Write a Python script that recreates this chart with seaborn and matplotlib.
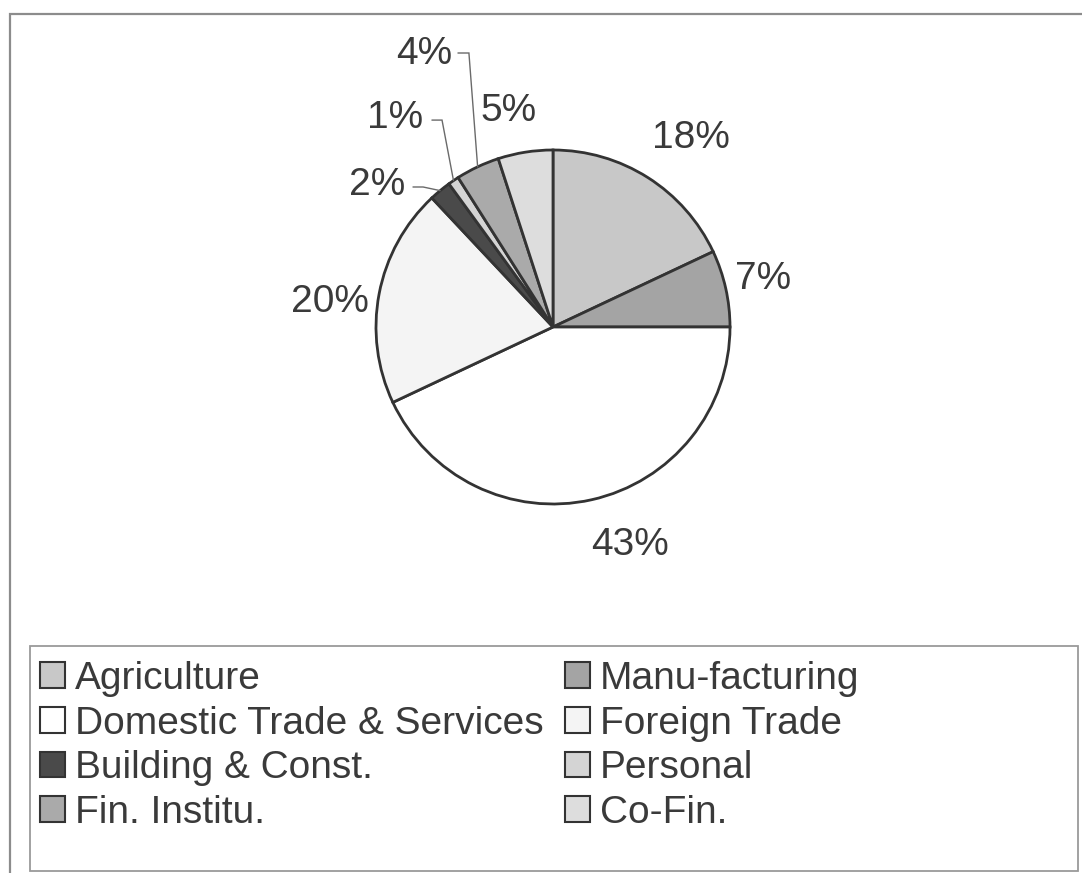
import numpy as np
import matplotlib
matplotlib.use("Agg")
import matplotlib.pyplot as plt
from matplotlib.patches import Patch, Rectangle
import seaborn as sns

# Loan portfolio by sector (percent of total)
sectors = ["Agriculture", "Manu-facturing", "Domestic Trade & Services",
           "Foreign Trade", "Building & Const.", "Personal",
           "Fin. Institu.", "Co-Fin."]
shares = [18, 7, 43, 20, 2, 1, 4, 5]
pct_labels = [f"{v}%" for v in shares]

sns.set_theme(style="white")
plt.rcParams["font.family"] = ["Liberation Sans", "DejaVu Sans"]

greys = ["#c8c8c8", "#a4a4a4", "#ffffff", "#f4f4f4",
         "#4a4a4a", "#d4d4d4", "#aaaaaa", "#dddddd"]
text_col = "#3a3a3a"
edge_col = "#333333"

W, H = 1082, 873
CX, CY, R = 553, 327, 177          # pie centre and radius, pixels from top-left

fig = plt.figure(figsize=(W / 100, H / 100), dpi=100)
fig.patch.set_facecolor("white")
ax = fig.add_axes([0, 0, 1, 1])

wedges, _ = ax.pie(shares, colors=greys, startangle=90, counterclock=False,
                   radius=1.0, center=(0, 0),
                   wedgeprops=dict(edgecolor=edge_col, linewidth=2.0))
ax.set_xlim(-CX / R, (W - CX) / R)
ax.set_ylim((CY - H) / R, CY / R)
ax.set_aspect("auto")
ax.axis("off")

# label anchors in pie units: (x, y, horizontal alignment)
label_anchor = [(0.780, 1.068, "center"), (1.186, 0.271, "center"),
                (0.435, -1.232, "center"), (-1.260, 0.141, "center"),
                (-0.836, 0.802, "right"), (-0.734, 1.181, "right"),
                (-0.571, 1.545, "right"), (-0.254, 1.220, "center")]
# leader lines for the thin slices: index -> (start, elbow)
leaders = {4: ((-0.791, 0.791), (-0.734, 0.791)),
           5: ((-0.684, 1.169), (-0.627, 1.169)),
           6: ((-0.537, 1.548), (-0.475, 1.548))}

for i, (w, lab) in enumerate(zip(wedges, pct_labels)):
    x, y, ha = label_anchor[i]
    ax.text(x, y, lab, ha=ha, va="center", fontsize=28, color=text_col)
    if i in leaders:
        mid = np.deg2rad((w.theta1 + w.theta2) / 2)
        ex, ey = np.cos(mid), np.sin(mid)
        (sx, sy), (bx, by) = leaders[i]
        ax.plot([sx, bx, ex], [sy, by, ey], color="#6a6a6a", lw=1.0,
                solid_joinstyle="miter")

# outer chart frame (runs off the right and bottom edges)
fig.add_artist(Rectangle((10 / W, -0.02), 1.05, 1 - 14 / H + 0.02,
                         transform=fig.transFigure, fill=False,
                         edgecolor="#8c8c8c", linewidth=1.6))
# legend frame
fig.add_artist(Rectangle((30 / W, 2 / H), 1048 / W, 225 / H,
                         transform=fig.transFigure, fill=False,
                         edgecolor="#9a9a9a", linewidth=1.3))

handles = [Patch(facecolor=c, edgecolor=edge_col, linewidth=1.5) for c in greys]
legend_kw = dict(frameon=False, fontsize=28, handlelength=0.64, handleheight=0.64,
                 handletextpad=0.26, labelspacing=0.22, borderpad=0.0,
                 borderaxespad=0.0, labelcolor=text_col, loc="upper left")
left_idx = [0, 2, 4, 6]
right_idx = [1, 3, 5, 7]
leg1 = fig.legend([handles[i] for i in left_idx], [sectors[i] for i in left_idx],
                  bbox_to_anchor=(40 / W, 1 - 661 / H), **legend_kw)
leg2 = fig.legend([handles[i] for i in right_idx], [sectors[i] for i in right_idx],
                  bbox_to_anchor=(565 / W, 1 - 661 / H), **legend_kw)

fig.savefig("out.png", dpi=100, facecolor="white")
